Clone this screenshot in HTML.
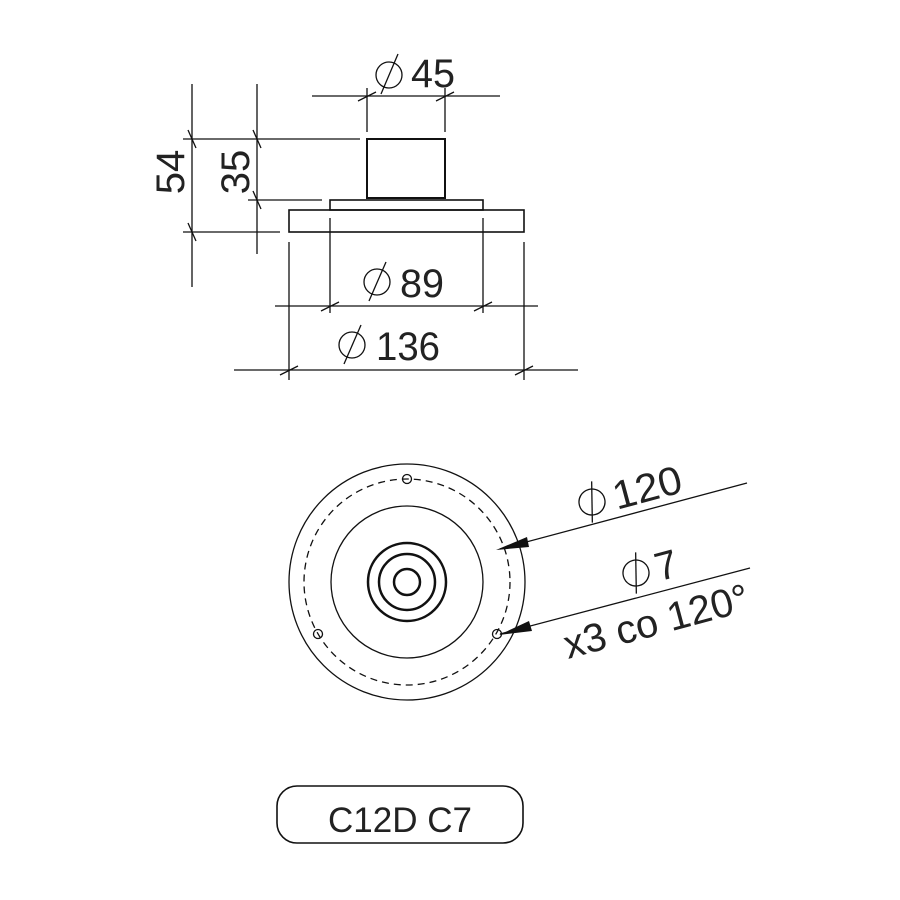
<!DOCTYPE html>
<html><head><meta charset="utf-8"><style>
html,body{margin:0;padding:0;background:#fff;}
svg{display:block;}
text{font-family:"Liberation Sans",sans-serif;fill:#222;}
</style></head><body>
<svg width="900" height="900" viewBox="0 0 900 900" xmlns="http://www.w3.org/2000/svg">
<g stroke="#111" fill="none" stroke-width="1.3">
<rect x="367" y="139" width="78" height="59" stroke-width="2"/>
<rect x="330" y="200" width="153" height="10" stroke-width="1.6"/>
<rect x="289" y="210" width="235" height="22" stroke-width="1.6"/>
<line x1="312" y1="96" x2="500" y2="96"/>
<line x1="367" y1="88" x2="367" y2="132"/>
<line x1="445" y1="88" x2="445" y2="132"/>
<line x1="358" y1="101" x2="376" y2="92"/>
<line x1="436" y1="101" x2="454" y2="92"/>

<line x1="275" y1="306" x2="538" y2="306"/>
<line x1="330" y1="218" x2="330" y2="313"/>
<line x1="483" y1="218" x2="483" y2="313"/>
<line x1="321" y1="311" x2="339" y2="302"/>
<line x1="474" y1="311" x2="492" y2="302"/>

<line x1="234" y1="370" x2="578" y2="370"/>
<line x1="289" y1="242" x2="289" y2="380"/>
<line x1="524" y1="242" x2="524" y2="380"/>
<line x1="280" y1="375" x2="298" y2="366"/>
<line x1="515" y1="375" x2="533" y2="366"/>

<line x1="192" y1="84" x2="192" y2="287"/>
<line x1="183" y1="139" x2="360" y2="139"/>
<line x1="183" y1="232" x2="280" y2="232"/>
<line x1="188" y1="130" x2="196" y2="148"/>
<line x1="188" y1="223" x2="196" y2="241"/>

<line x1="257" y1="84" x2="257" y2="254"/>
<line x1="248" y1="200" x2="322" y2="200"/>
<line x1="253" y1="130" x2="261" y2="148"/>
<line x1="253" y1="191" x2="261" y2="209"/>

<circle cx="389" cy="75" r="13"/><line x1="398" y1="54" x2="381" y2="94"/>
<circle cx="377" cy="282" r="13"/><line x1="386" y1="262" x2="369" y2="301"/>
<circle cx="352" cy="345" r="13"/><line x1="361" y1="325" x2="344" y2="364"/>

<circle cx="407" cy="582" r="118"/>
<circle cx="407" cy="582" r="103" stroke-dasharray="7,5"/>
<circle cx="407" cy="582" r="76"/>
<circle cx="407" cy="582" r="39" stroke-width="2.5"/>
<circle cx="407" cy="582" r="28" stroke-width="2.5"/>
<circle cx="407" cy="582" r="13" stroke-width="2.5"/>
<circle cx="407" cy="479" r="4.5"/>
<circle cx="318" cy="634" r="4.5"/>
<circle cx="497" cy="634" r="4.5"/>

<line x1="747" y1="483" x2="500" y2="549"/>
<line x1="750" y1="568" x2="500" y2="634"/>

<rect x="277" y="786" width="246" height="57" rx="20" ry="20" stroke-width="1.6"/>
</g>
<polygon points="496,550 527,537 529,547" fill="#111"/>
<polygon points="499,635 529,621 532,631" fill="#111"/>

<g font-size="40">
<text x="411" y="87" textLength="44" lengthAdjust="spacingAndGlyphs">45</text>
<text x="400" y="297" textLength="44" lengthAdjust="spacingAndGlyphs">89</text>
<text x="376" y="360" textLength="64" lengthAdjust="spacingAndGlyphs">136</text>
<text transform="translate(184,172) rotate(-90)" text-anchor="middle">54</text>
<text transform="translate(249,172) rotate(-90)" text-anchor="middle">35</text>
<g transform="translate(592,502) rotate(-15)">
<circle cx="0" cy="0" r="13" stroke="#111" stroke-width="1.3" fill="none"/>
<line x1="5" y1="-20" x2="-5" y2="20" stroke="#111" stroke-width="1.3"/>
<text x="22" y="14" textLength="70" lengthAdjust="spacingAndGlyphs">120</text>
</g>
<g transform="translate(636,573) rotate(-15)">
<circle cx="0" cy="0" r="13" stroke="#111" stroke-width="1.3" fill="none"/>
<line x1="5" y1="-20" x2="-5" y2="20" stroke="#111" stroke-width="1.3"/>
<text x="20" y="14">7</text>
</g>
<text transform="translate(568,659) rotate(-15)" textLength="190" lengthAdjust="spacingAndGlyphs">x3 co 120°</text>
</g>
<text x="400" y="832" font-size="35" text-anchor="middle">C12D C7</text>
</svg>
</body></html>
